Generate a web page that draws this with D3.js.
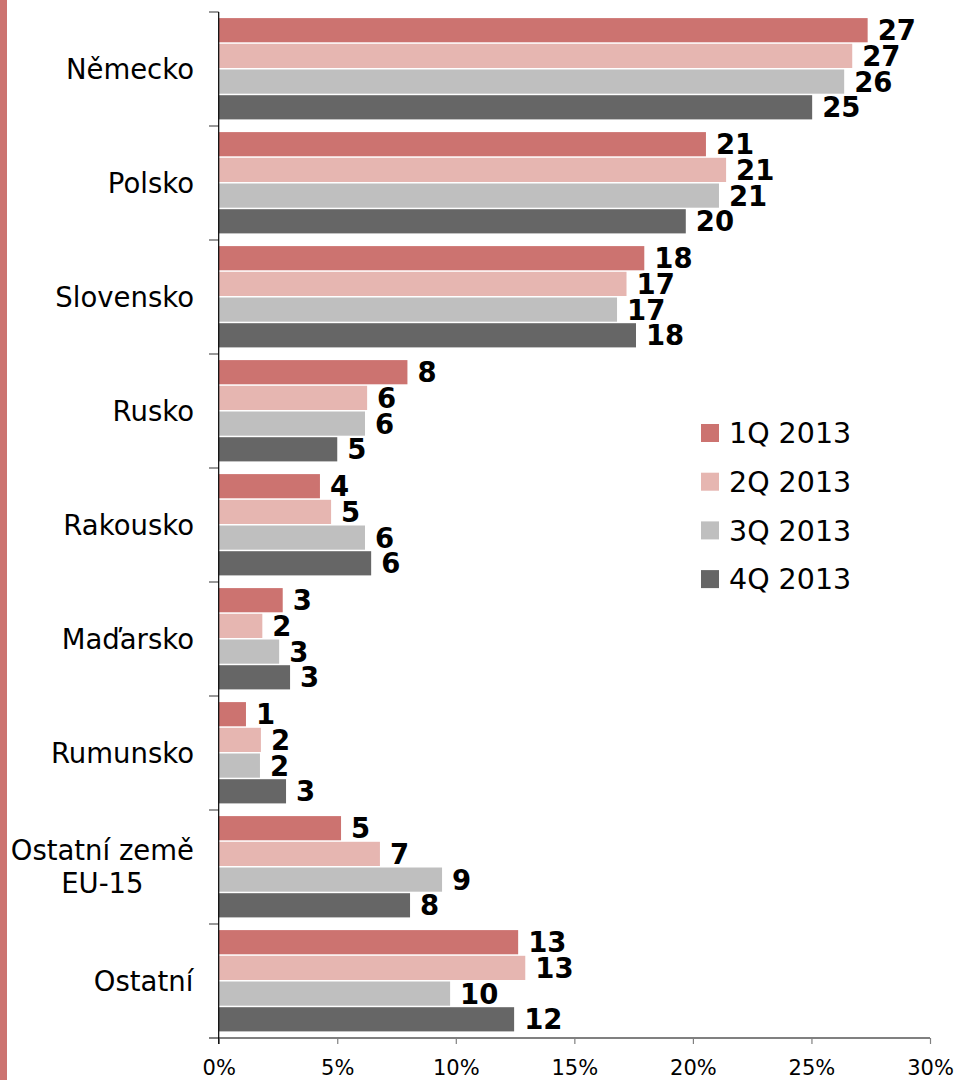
<!DOCTYPE html>
<html>
<head>
<meta charset="utf-8">
<script src="https://cdn.jsdelivr.net/npm/d3@7"></script>
<style>
  body { margin: 0; background: #fff; }
  svg { display: block; font-family: "DejaVu Sans", Verdana, sans-serif; }
</style>
</head>
<body>
<svg width="957" height="1080"></svg>
<script>
'use strict';

// countries (top to bottom), share of the quarter in %
const categories = ['Německo', 'Polsko', 'Slovensko', 'Rusko', 'Rakousko',
                    'Maďarsko', 'Rumunsko', 'Ostatní země\nEU-15', 'Ostatní'];
const series = ['1Q 2013', '2Q 2013', '3Q 2013', '4Q 2013'];
const q1 = [27.37, 20.55, 17.95, 7.96, 4.27, 2.70, 1.15, 5.16, 12.63];
const q2 = [26.72, 21.40, 17.20, 6.26, 4.74, 1.84, 1.78, 6.80, 12.93];
const q3 = [26.38, 21.10, 16.80, 6.17, 6.17, 2.55, 1.74, 9.42, 9.76];
const q4 = [25.03, 19.70, 17.60, 5.00, 6.43, 3.01, 2.84, 8.07, 12.46];
const xTicks = [0, 5, 10, 15, 20, 25, 30];
const colors = ['#cc7370', '#e6b6b1', '#bfbfbf', '#666666'];

const values = [q1, q2, q3, q4];

const svg = d3.select('svg');

// red stripe on the left page edge
svg.append('rect')
    .attr('x', 0).attr('y', 0)
    .attr('width', 7).attr('height', 1080)
    .attr('fill', '#cc7370');

const x = d3.scaleLinear().domain([0, 30]).range([218.7, 930]);
const y0 = d3.scaleBand().domain(categories).range([12, 1038]);
const y1 = d3.scaleBand().domain(series).range([5.6, y0.bandwidth() - 5.6]);

const fmt = d3.format('.0f');

// bars
const groups = svg.append('g').selectAll('g')
    .data(categories)
    .enter()
    .append('g')
    .attr('transform', d => `translate(0,${y0(d)})`);

groups.each(function (cat, ci) {
    const g = d3.select(this);
    const rows = series.map((s, si) => ({ s: s, si: si, v: values[si][ci] }));

    g.selectAll('rect')
        .data(rows)
        .enter()
        .append('rect')
            .attr('x', x(0))
            .attr('y', d => y1(d.s) + 0.5)
            .attr('width', d => x(d.v) - x(0))
            .attr('height', y1.bandwidth() - 1.5)
            .attr('fill', d => colors[d.si]);

    g.selectAll('text.val')
        .data(rows)
        .enter()
        .append('text')
            .attr('class', 'val')
            .attr('x', d => x(d.v) + 10)
            .attr('y', d => y1(d.s) + y1.bandwidth() / 2)
            .attr('dy', '0.36em')
            .attr('font-size', 27.5)
            .attr('font-weight', 'bold')
            .attr('fill', '#000')
            .text(d => fmt(d.v));
});

// category axis (ticks between the groups)
const bounds = categories.map(c => y0(c)).concat([y0.range()[1]]);
svg.append('g').selectAll('line')
    .data(bounds)
    .enter()
    .append('line')
        .attr('x1', 209).attr('x2', x(0))
        .attr('y1', d => d).attr('y2', d => d)
        .attr('stroke', '#555')
        .attr('stroke-width', 1.2);

// category labels, possibly on two lines
const catLabels = svg.append('g').selectAll('text')
    .data(categories)
    .enter()
    .append('text')
        .attr('font-size', 27.5)
        .attr('fill', '#000')
        .attr('text-anchor', 'middle')
        .attr('x', 0)
        .attr('y', d => y0(d) + y0.bandwidth() / 2);

catLabels.each(function (d) {
    const lines = d.split('\n');
    const t = d3.select(this);
    t.selectAll('tspan')
        .data(lines)
        .enter()
        .append('tspan')
            .attr('x', 0)
            .attr('dy', (l, i) => i === 0 ? `${0.36 - (lines.length - 1) * 0.6}em` : '1.2em')
            .text(l => l);
});
// right-align the label block, center the lines within it
catLabels.each(function () {
    const t = d3.select(this);
    const w = this.getBBox().width;
    t.attr('x', 194 - w / 2);
    t.selectAll('tspan').attr('x', 194 - w / 2);
});

// x axis
const xAxis = svg.append('g')
    .attr('transform', `translate(0,${y0.range()[1]})`)
    .call(d3.axisBottom(x)
        .tickValues(xTicks)
        .tickFormat(d => d + '%')
        .tickSize(6)
        .tickPadding(16));
xAxis.select('.domain')
    .attr('d', `M209,0H${x(30)}`)
    .attr('stroke', '#808080')
    .attr('stroke-width', 2);
xAxis.selectAll('.tick line').attr('stroke', '#808080').attr('stroke-width', 1.2);
xAxis.selectAll('.tick text')
    .attr('font-size', 21)
    .attr('font-family', '"DejaVu Sans", Verdana, sans-serif')
    .attr('fill', '#000');

// vertical value axis line
svg.append('line')
    .attr('x1', x(0)).attr('x2', x(0))
    .attr('y1', 12).attr('y2', y0.range()[1] + 6)
    .attr('stroke', '#000')
    .attr('stroke-width', 1.2);

// legend
const legend = svg.append('g').selectAll('g')
    .data(series)
    .enter()
    .append('g')
    .attr('transform', (d, i) => `translate(701,${433 + i * 48.7})`);

legend.append('rect')
    .attr('x', 0).attr('y', -9)
    .attr('width', 18).attr('height', 18)
    .attr('fill', (d, i) => colors[i]);

legend.append('text')
    .attr('x', 28)
    .attr('dy', '0.36em')
    .attr('font-size', 28.5)
    .attr('fill', '#000')
    .text(d => d);
</script>
</body>
</html>
